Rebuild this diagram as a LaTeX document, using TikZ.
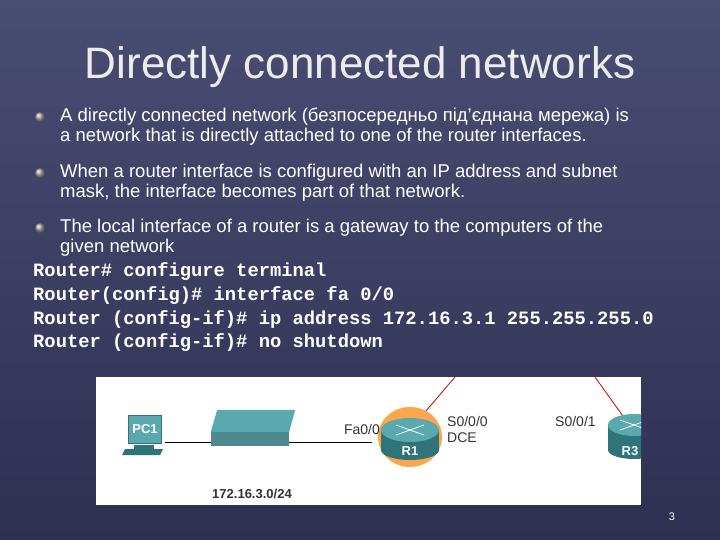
\documentclass[tikz,border=0pt]{standalone}
\usepackage{fontspec}
\setmainfont{Liberation Sans}
\newfontfamily\codefont{Liberation Mono}
\definecolor{bgA}{HTML}{4A4D72}
\definecolor{bgB}{HTML}{2E3052}
\definecolor{teal1}{HTML}{5AA9AE}
\definecolor{teal2}{HTML}{2F7479}
\begin{document}
\begin{tikzpicture}[x=1pt,y=-1pt,
  body/.style={anchor=west,text=white,font=\fontsize{18.5}{22}\selectfont,inner sep=0},
  code/.style={anchor=west,text=white,font=\codefont\bfseries\fontsize{18.8}{22}\selectfont,inner sep=0},
  bul/.style={circle,inner sep=0,minimum size=10pt,shading=ball,ball color=gray!70},
  lbl/.style={font=\fontsize{14}{16}\selectfont,inner sep=0,text=black!80}]
\useasboundingbox (0,0) rectangle (720,540);
\fill[top color=bgA,bottom color=bgB] (0,0) rectangle (720,540);
\node[text=white!85!gray,font=\fontsize{44}{48}\selectfont] (title) at (360,67) {Directly connected networks};
\node[bul] (b1) at (40,117) {};
\node[body] (t1) at (60,117) {A directly connected network (безпосередньо під’єднана мережа) is};
\node[body] (t1b) at (60,137) {a network that is directly attached to one of the router interfaces.};
\node[bul] (b2) at (40,173) {};
\node[body] (t2) at (60,173) {When a router interface is configured with an IP address and subnet};
\node[body] (t2b) at (60,193) {mask, the interface becomes part of that network.};
\node[bul] (b3) at (40,228) {};
\node[body] (t3) at (60,228) {The local interface of a router is a gateway to the computers of the};
\node[body] (t3b) at (60,248) {given network};
\node[code] (c1) at (33,272) {Router\# configure terminal};
\node[code] (c2) at (33,296) {Router(config)\# interface fa 0/0};
\node[code] (c3) at (33,320) {Router (config-if)\# ip address 172.16.3.1 255.255.255.0};
\node[code] (c4) at (33,343) {Router (config-if)\# no shutdown};
% figure
\fill[white] (96,377) rectangle (641,505);
\begin{scope}
\clip (96,377) rectangle (641,505);
\draw[red!80!black,thick] (414,425) -- (455,377);
\draw[red!80!black,thick] (640,440) -- (595,377);
% PC
\node[inner sep=0,minimum width=33pt,minimum height=28pt,fill=teal1,draw=teal2,font=\bfseries\fontsize{13}{14}\selectfont,text=white] (pc) at (145,429) {PC1};
\fill[teal2] (134,445) rectangle (154,449);
\fill[teal2] (125,449) -- (163,449) -- (160,455) -- (122,455) -- cycle;
% switch
\node[fill=teal2!85,minimum width=78pt,minimum height=14pt,inner sep=0] (sw) at (250,439) {};
\fill[teal1] (sw.north west) -- (sw.north east) -- ++(6,-22) -- ++(-78,0) -- cycle;
\draw[thick] (165,442) coordinate (pe) -- (sw.west|-0,442);
\draw[thick] (sw.east|-0,442) -- (372,442) coordinate (rl);
% routers
\fill[orange!70] (410,437) ellipse (32 and 30);
\fill[teal2] (381,430) rectangle (439,450);
\fill[teal2] (410,450) ellipse (29 and 10);
\fill[teal1] (410,430) ellipse (29 and 12);
\draw[white,thick] (396,425)--(424,435) (396,435)--(424,425);
\node[font=\bfseries\fontsize{13}{14}\selectfont,text=white] (r1l) at (410,451) {R1};
\fill[teal2] (608,425) rectangle (660,450);
\fill[teal2] (634,450) ellipse (26 and 9);
\fill[teal1] (634,425) ellipse (26 and 11);
\draw[white,thick] (620,420)--(648,430) (620,430)--(648,420);
\node[font=\bfseries\fontsize{13}{14}\selectfont,text=white] (r3l) at (630,451) {R3};
\end{scope}
\node[lbl,anchor=east] (fa) at (380,429) {Fa0/0};
\node[lbl,anchor=west,align=left] (s0) at (447,429) {S0/0/0\\DCE};
\node[lbl,anchor=west] (s1) at (555,421) {S0/0/1};
\node[lbl,font=\bfseries\fontsize{13}{14}\selectfont] (net) at (252,494) {172.16.3.0/24};
\node[text=white,font=\fontsize{11}{12}\selectfont] (pg) at (672,517) {3};
\end{tikzpicture}
\end{document}
